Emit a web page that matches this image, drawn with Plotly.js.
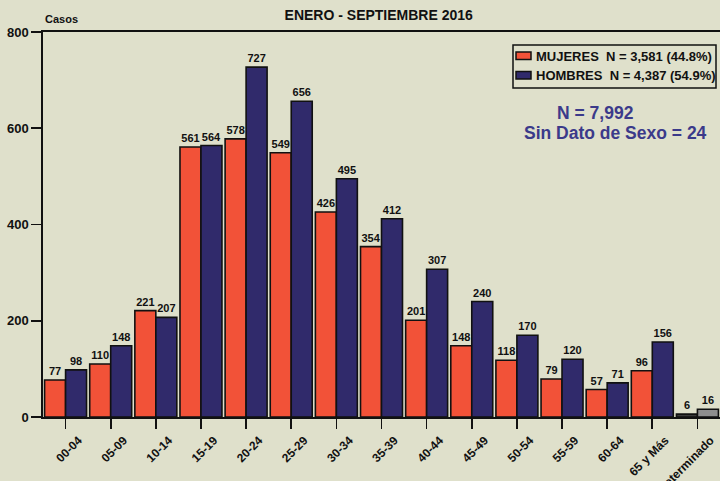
<!DOCTYPE html>
<html><head><meta charset="utf-8">
<script src="https://cdn.plot.ly/plotly-3.0.1.min.js"></script>
<style>body{margin:0;background:#dfe0cb}</style>
</head><body>
<div id="chart" style="width:720px;height:481px"></div>
<script>
const categories = ["00-04","05-09","10-14","15-19","20-24","25-29","30-34","35-39","40-44","45-49","50-54","55-59","60-64","65 y Más","Indeterminado"];
const mujeres = [77,110,221,561,578,549,426,354,201,148,118,79,57,96,6];
const hombres = [98,148,207,564,727,656,495,412,307,240,170,120,71,156,16];
const mujeresLabel = "MUJERES  N = 3,581 (44.8%)";
const hombresLabel = "HOMBRES  N = 4,387 (54.9%)";
const titleText = "ENERO - SEPTIEMBRE 2016";
const yTitle = "Casos";
const totalText = "N = 7,992";
const sinDatoText = "Sin Dato de Sexo = 24";

const FONT = "Liberation Sans, Arial, sans-serif";
const NARROW = "Liberation Sans Narrow, Arial Narrow, Liberation Sans, sans-serif";
const red = "#f25238", blue = "#302a6b";
const mCol = categories.map((c,i)=> i===categories.length-1 ? "#3a3a3a" : red);
const hCol = categories.map((c,i)=> i===categories.length-1 ? "#8e8e8e" : blue);

const L = 43, T = 32, PW = 677, PH = 385;
const px = x => (x - L) / PW;
const py = y => (T + PH - y) / PH;

const common = {
  type: "bar", x: categories, textposition: "outside", cliponaxis: false,
  textfont: {family: NARROW, size: 11, color: "#111", weight: "bold"},
  hoverinfo: "none", showlegend: false
};
const traces = [
  Object.assign({}, common, {name: mujeresLabel, y: mujeres, text: mujeres.map(String),
    marker: {color: mCol, line: {color: "#111", width: 1.6}}}),
  Object.assign({}, common, {name: hombresLabel, y: hombres, text: hombres.map(String),
    marker: {color: hCol, line: {color: "#111", width: 1.6}}})
];

const legendItems = [
  {label: mujeresLabel, color: red, y: 56},
  {label: hombresLabel, color: blue, y: 75.5}
];
const shapes = [
  {type: "rect", xref: "paper", yref: "paper", x0: px(513), x1: px(716), y0: py(45), y1: py(88),
    line: {color: "#111", width: 1.5}, fillcolor: "rgba(0,0,0,0)"}
];
const annotations = [
  {text: yTitle, xref: "paper", yref: "paper", x: 0, y: 1, xanchor: "left", yanchor: "bottom", yshift: 5,
    showarrow: false, font: {family: FONT, size: 11, weight: "bold", color: "#111"}},
  {text: totalText, xref: "paper", yref: "paper", x: px(595), y: py(113), xanchor: "center", yanchor: "middle",
    showarrow: false, font: {family: FONT, size: 17.5, weight: "bold", color: "#3b3a8a"}},
  {text: sinDatoText, xref: "paper", yref: "paper", x: px(615), y: py(133), xanchor: "center", yanchor: "middle",
    showarrow: false, font: {family: FONT, size: 17.5, weight: "bold", color: "#3b3a8a"}}
];
legendItems.forEach(it => {
  shapes.push({type: "rect", xref: "paper", yref: "paper", x0: px(516), x1: px(531), y0: py(it.y - 4), y1: py(it.y + 3.5),
    line: {color: "#111", width: 1.5}, fillcolor: it.color});
  annotations.push({text: it.label, xref: "paper", yref: "paper", x: px(534), y: py(it.y), xanchor: "left", yanchor: "middle",
    showarrow: false, font: {family: FONT, size: 13, weight: "bold", color: "#111"}});
});

const layout = {
  width: 720, height: 481,
  paper_bgcolor: "#dfe0cb", plot_bgcolor: "#dfe0cb",
  margin: {l: L, r: 0, t: T, b: 64, autoexpand: false},
  barmode: "group", bargap: 0.07, bargroupgap: 0,
  font: {family: FONT, color: "#111"},
  showlegend: false,
  title: {text: titleText, x: 0.526, xanchor: "center", y: 0.969, yanchor: "middle",
    font: {family: FONT, size: 14, weight: "bold", color: "#111"}},
  xaxis: {type: "category", automargin: false, tickangle: -45, ticks: "outside", ticklen: 10, tickwidth: 1.6,
    tickcolor: "#111", showline: true, linecolor: "#111", linewidth: 1.6, mirror: true,
    ticklabelshift: 13, ticklabelstandoff: 0,
    tickfont: {family: FONT, size: 12, weight: "bold", color: "#111"}, fixedrange: true},
  yaxis: {range: [0, 800], automargin: false, tickvals: [0,200,400,600,800], ticks: "outside", ticklen: 10, tickwidth: 1.6,
    tickcolor: "#111", showline: true, linecolor: "#111", linewidth: 1.6, showgrid: false, zeroline: false,
    tickfont: {family: FONT, size: 13, weight: "bold", color: "#111"}},
  shapes: shapes,
  annotations: annotations
};
Plotly.newPlot("chart", traces, layout, {displayModeBar: false, staticPlot: true});
</script>
</body></html>
